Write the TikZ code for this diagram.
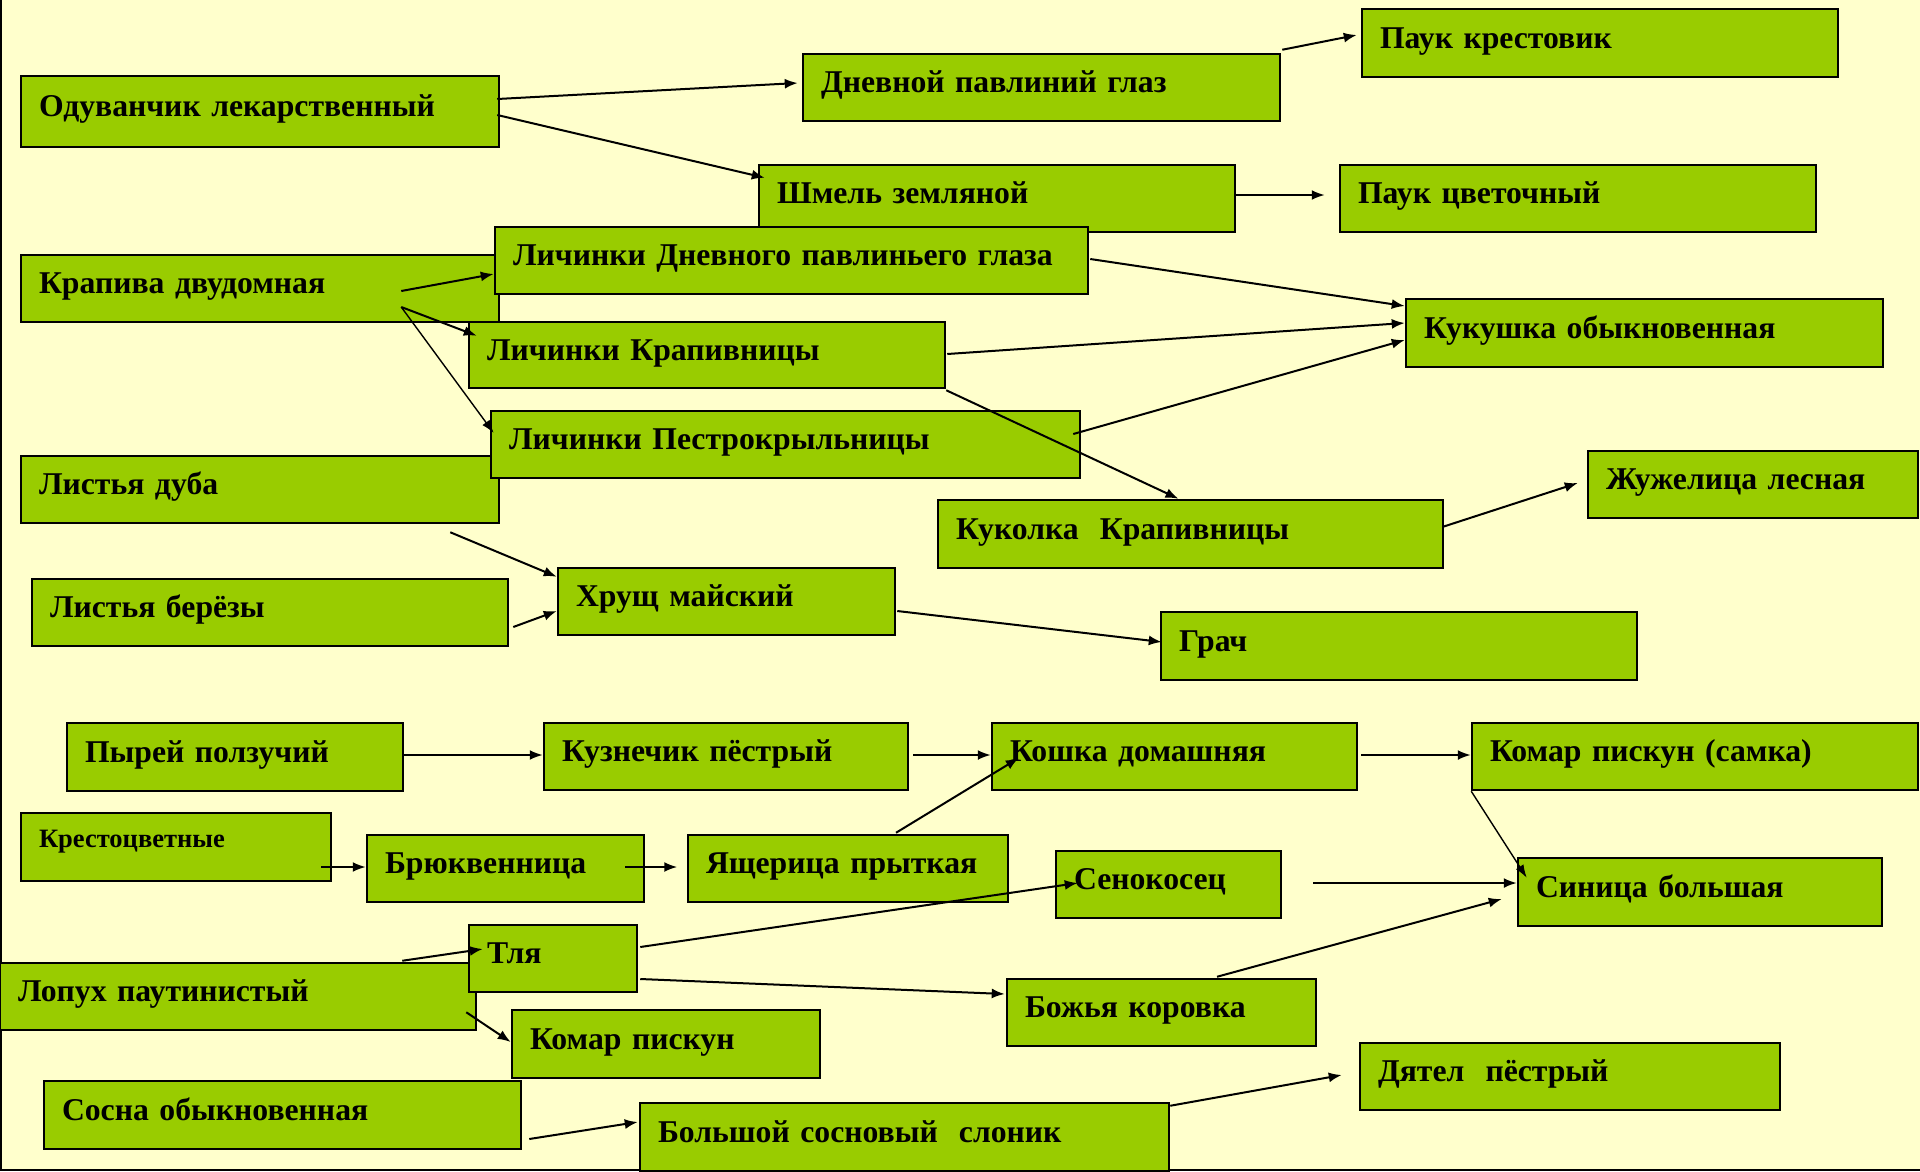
\documentclass[tikz,border=0pt]{standalone}
\usepackage{fontspec}
\setmainfont{Liberation Serif}
\usetikzlibrary{arrows.meta}
\definecolor{bgc}{HTML}{FFFFCC}
\definecolor{boxg}{HTML}{99CC00}
\tikzset{
  bxs/.style={draw=black, line width=2.5pt, fill=boxg, inner sep=0pt, align=left,
    text height=22pt, text depth=12pt, font=\fontsize{31.7}{38}\selectfont\bfseries},
  smallbx/.style={text height=18pt, text depth=18pt, font=\fontsize{26.5}{32}\selectfont\bfseries},
  arr/.style={line width=2pt, -{Latex[length=13pt,width=10pt]}},
  thinarr/.style={line width=1.4pt, -{Latex[length=13pt,width=9pt]}}
}
\newcommand\bx[7][]{%
  \pgfmathsetmacro\bxw{#5-#3}%
  \pgfmathsetmacro\bxh{#6-#4}%
  \pgfmathsetmacro\bxt{#5-#3-36}%
  \pgfmathsetmacro\bxcx{(#3+#5)/2}%
  \pgfmathsetmacro\bxcy{(#4+#6)/2}%
  \node[bxs, minimum width=\bxw pt, minimum height=\bxh pt, text width=\bxt pt, #1] (#2) at (\bxcx,\bxcy) {#7};%
}
\begin{document}
\begin{tikzpicture}[x=1pt, y=-1pt]
\useasboundingbox (0,0) rectangle (1920,1171);
\fill[bgc] (0,0) rectangle (1920,1171);
\draw[line width=2pt] (1,0) -- (1,1170) -- (1920,1170);

\bx{odu}{21}{76}{499}{147}{Одуванчик лекарственный}
\bx{dpg}{803}{54}{1280}{121}{Дневной павлиний глаз}
\bx{pk}{1362}{9}{1838}{77}{Паук крестовик}
\bx{shm}{759}{165}{1235}{232}{Шмель земляной}
\bx{pc}{1340}{165}{1816}{232}{Паук цветочный}
\bx{kra}{21}{255}{499}{322}{Крапива двудомная}
\bx{ldp}{495}{227}{1088}{294}{Личинки Дневного павлиньего глаза}
\bx{lkr}{469}{322}{945}{388}{Личинки Крапивницы}
\bx{kuk}{1406}{299}{1883}{367}{Кукушка обыкновенная}
\bx{ldub}{21}{456}{499}{523}{Листья дуба}
\bx{lps}{491}{411}{1080}{478}{Личинки Пестрокрыльницы}
\bx{zhu}{1588}{451}{1918}{518}{Жужелица лесная}
\bx{kuko}{938}{500}{1443}{568}{Куколка\ \ Крапивницы}
\bx{hr}{558}{568}{895}{635}{Хрущ майский}
\bx{lber}{32}{579}{508}{646}{Листья берёзы}
\bx{grach}{1161}{612}{1637}{680}{Грач}
\bx{pyr}{67}{723}{403}{791}{Пырей ползучий}
\bx{kuz}{544}{723}{908}{790}{Кузнечик пёстрый}
\bx{kosh}{992}{723}{1357}{790}{Кошка домашняя}
\bx{kms}{1472}{723}{1918}{790}{Комар пискун (самка)}
\bx[smallbx]{kres}{21}{813}{331}{881}{Крестоцветные}
\bx{bryu}{367}{835}{644}{902}{Брюквенница}
\bx{yash}{688}{835}{1008}{902}{Ящерица прыткая}
\bx{sen}{1056}{851}{1281}{918}{Сенокосец}
\bx{sin}{1518}{858}{1882}{926}{Синица большая}
\bx{lop}{0}{963}{476}{1030}{Лопух паутинистый}
\bx{tlya}{469}{925}{637}{992}{Тля}
\bx{bozh}{1007}{979}{1316}{1046}{Божья коровка}
\bx{kom}{512}{1010}{820}{1078}{Комар пискун}
\bx{dyat}{1360}{1043}{1780}{1110}{Дятел\ \ пёстрый}
\bx{sos}{44}{1081}{521}{1149}{Сосна обыкновенная}
\bx{slon}{640}{1103}{1169}{1171}{Большой сосновый\ \ слоник}

\draw[arr] ([shift={(-3,-12.5)}]odu.east) -- ([shift={(-4,-4.5)}]dpg.west);
\draw[arr] ([shift={(-3,3.5)}]odu.east) -- ([shift={(7,14)}]shm.north west);
\draw[arr] ([shift={(1,-3)}]dpg.north east) -- ([shift={(-4,-8)}]pk.west);
\draw[arr] ([shift={(-1,-3.5)}]shm.east) -- ([shift={(-14,-3.5)}]pc.west);
\draw[arr] ([shift={(-99,2.5)}]kra.east) -- ([shift={(0,13.5)}]ldp.west);
\draw[arr] ([shift={(-99,18.5)}]kra.east) -- ([shift={(9,15)}]lkr.north west);
\draw[thinarr] ([shift={(-99,18.5)}]kra.east) -- ([shift={(4,-11.5)}]lps.west);
\draw[arr] ([shift={(1,-1.5)}]ldp.east) -- ([shift={(0,-27)}]kuk.west);
\draw[arr] ([shift={(1,-1)}]lkr.east) -- ([shift={(0,-10)}]kuk.west);
\draw[arr] ([shift={(-8,-10.5)}]lps.east) -- ([shift={(0,7)}]kuk.west);
\draw[arr] ([shift={(0,1)}]lkr.south east) -- ([shift={(-12,0)}]kuko.north);
\draw[arr] ([shift={(-2,-7)}]kuko.east) -- ([shift={(-9,-1.5)}]zhu.west);
\draw[arr] ([shift={(-50,8)}]ldub.south east) -- ([shift={(0,10)}]hr.north west);
\draw[arr] ([shift={(4,14.5)}]lber.east) -- ([shift={(0,9.5)}]hr.west);
\draw[arr] ([shift={(1,9.5)}]hr.east) -- ([shift={(2,-4)}]grach.west);
\draw[arr] ([shift={(-2,-2)}]pyr.east) -- ([shift={(0,-1.5)}]kuz.west);
\draw[arr] ([shift={(4,-1.5)}]kuz.east) -- ([shift={(0,-1.5)}]kosh.west);
\draw[arr] ([shift={(3,-1.5)}]kosh.east) -- ([shift={(0,-1.5)}]kms.west);
\draw[arr] ([shift={(48,-1)}]yash.north) -- ([shift={(28,1.5)}]kosh.west);
\draw[arr] ([shift={(-11,20)}]kres.east) -- ([shift={(0,-1.5)}]bryu.west);
\draw[arr] ([shift={(-20,-1.5)}]bryu.east) -- ([shift={(-9.5,-1.5)}]yash.west);
\draw[arr] ([shift={(2,-11.5)}]tlya.east) -- ([shift={(23,-1.5)}]sen.west);
\draw[arr] ([shift={(2,20.5)}]tlya.east) -- ([shift={(-1,-18.5)}]bozh.west);
\draw[arr] ([shift={(31,-1.5)}]sen.east) -- ([shift={(0,-9)}]sin.west);
\draw[thinarr] ([shift={(0.5,0)}]kms.south west) -- ([shift={(10,21)}]sin.north west);
\draw[arr] ([shift={(55.5,-1)}]bozh.north) -- ([shift={(-15,7)}]sin.west);
\draw[arr] ([shift={(-75,-1)}]lop.north east) -- ([shift={(15,-9.5)}]tlya.west);
\draw[arr] ([shift={(-11,-19)}]lop.south east) -- ([shift={(0,-2)}]kom.west);
\draw[arr] ([shift={(7,24)}]sos.east) -- ([shift={(-1,-15)}]slon.west);
\draw[arr] ([shift={(0,4)}]slon.north east) -- ([shift={(-17,-1.5)}]dyat.west);
\end{tikzpicture}
\end{document}
